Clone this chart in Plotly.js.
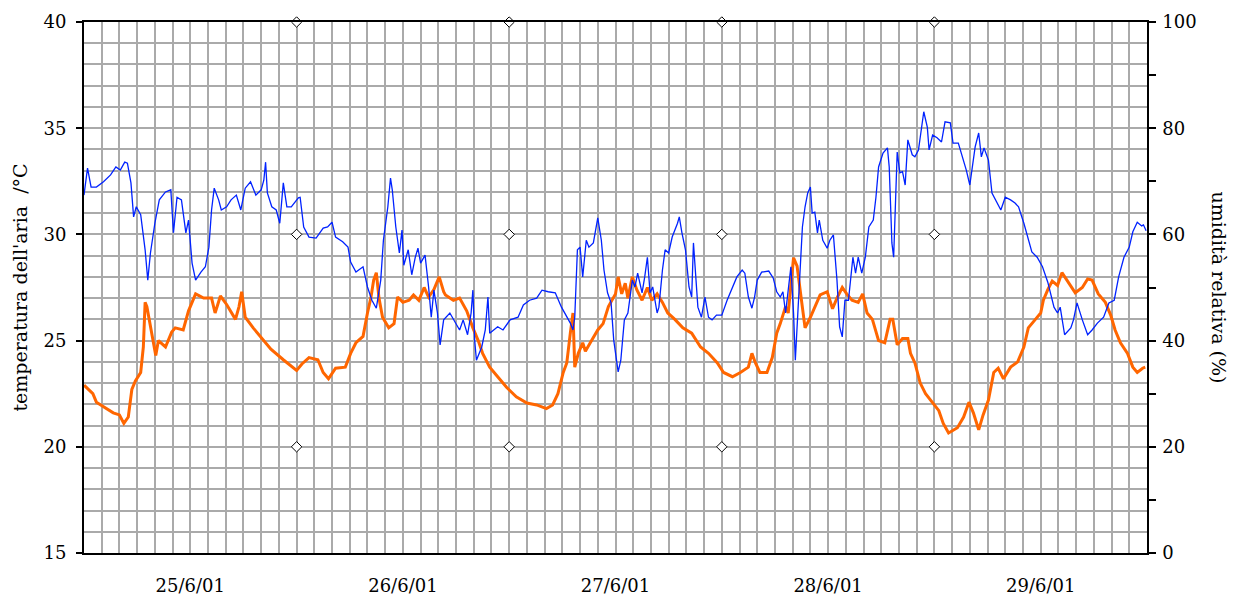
<!DOCTYPE html>
<html>
<head>
<meta charset="utf-8">
<script src="https://cdn.plot.ly/plotly-3.0.1.min.js"></script>
<style>html,body{margin:0;padding:0;background:#fff;}#chart{width:1239px;height:607px;}</style>
</head>
<body>
<div id="chart"></div>
<script>
// hours since 25/6/01 00:00
const tempHours = [0,1.0,1.4,2.2,3.3,4.0,4.5,5.0,5.4,5.8,6.4,6.7,6.9,7.1,7.6,8.1,8.4,9.2,9.9,10.3,11.2,11.8,12.6,13.5,14.4,14.8,15.4,16.1,17.1,17.5,17.8,18.2,19.1,20.3,21.1,22.5,24.0,24.6,25.4,26.4,27.0,27.6,28.4,29.5,30.1,30.7,31.5,32.0,32.4,32.7,33.0,33.3,33.7,34.4,35.0,35.4,36.0,36.7,37.2,37.8,38.4,38.9,39.5,40.1,40.6,40.8,41.7,42.4,43.2,43.9,44.5,45.0,45.8,46.7,47.7,48.8,50.0,51.1,52.2,52.9,53.5,54.1,54.5,54.9,55.2,55.4,55.8,56.3,56.6,57.3,58.0,58.6,59.2,60.0,60.3,60.7,61.1,61.4,61.9,62.4,63.0,63.6,64.1,64.7,65.3,65.9,66.7,67.6,68.6,69.6,70.5,71.5,72.2,73.2,74.1,75.0,75.4,75.8,76.3,77.1,77.7,78.2,78.6,79.2,79.5,80.1,80.5,80.9,81.4,82.0,82.5,83.1,83.9,84.5,85.0,85.6,86.1,86.7,87.4,87.9,88.4,89.0,89.7,90.4,91.0,91.3,91.8,92.4,93.0,93.3,93.8,94.4,95.0,95.8,96.5,97.0,97.6,98.6,99.3,99.9,100.4,101.0,101.5,102.1,102.7,103.2,103.8,104.6,105.4,106.1,106.6,107.4,108.0,108.3,108.8,109.3,109.9,110.4,111.0,111.9,112.7,113.3,113.8,114.5,115.3,115.9,116.4,117.0,117.8,118.4,118.9,119.5,119.8];
const temperature = [22.9,22.5,22.1,21.9,21.6,21.5,21.1,21.4,22.7,23.1,23.5,24.7,26.8,26.6,25.4,24.3,25.0,24.7,25.4,25.6,25.5,26.4,27.2,27.0,27.0,26.3,27.1,26.7,26.0,26.6,27.3,26.1,25.6,25.0,24.6,24.1,23.6,23.9,24.2,24.1,23.5,23.2,23.7,23.75,24.4,24.9,25.2,26.3,27.05,27.85,28.2,27.0,26.1,25.6,25.8,27.05,26.8,26.9,27.15,26.9,27.5,27.05,27.4,28.0,27.3,27.15,26.9,27.0,26.4,25.6,25.0,24.4,23.75,23.3,22.8,22.35,22.06,21.97,21.8,21.97,22.5,23.5,23.95,25.35,26.3,23.75,24.4,24.9,24.5,25.0,25.5,25.8,26.6,27.2,28.0,27.2,27.7,27.0,28.0,27.4,26.9,27.5,26.9,27.2,26.8,26.3,26.0,25.6,25.35,24.7,24.4,23.95,23.5,23.3,23.5,23.75,24.4,23.95,23.5,23.5,24.2,25.35,25.8,26.6,26.3,28.9,28.5,27.2,25.6,26.1,26.6,27.15,27.3,26.5,27.0,27.5,27.2,26.9,26.8,27.2,26.3,26.0,25.0,24.9,26.0,26.0,24.8,25.1,25.1,24.4,23.95,23.0,22.5,22.06,21.7,21.1,20.65,20.9,21.4,22.1,21.6,20.8,21.5,22.2,23.5,23.7,23.2,23.75,24.0,24.7,25.6,26.0,26.3,26.9,27.4,27.8,27.6,28.2,27.8,27.25,27.5,27.9,27.85,27.2,26.8,26.2,25.5,24.9,24.4,23.75,23.5,23.7,23.75];

const humHours = [0,0.2,0.4,0.8,1.4,2.2,3.0,3.6,4.1,4.6,4.9,5.3,5.6,5.9,6.4,6.9,7.2,7.5,8.0,8.5,9.2,9.8,10.1,10.5,11.0,11.5,11.8,12.2,12.6,13.2,13.7,14.1,14.4,14.7,15.2,15.5,16.1,16.6,17.2,17.7,18.2,18.8,19.4,20.0,20.3,20.5,20.7,21.2,21.7,22.1,22.5,22.9,23.4,24.2,24.4,24.8,25.4,26.2,27.0,27.5,28.0,28.4,29.2,29.8,30.1,30.7,31.5,32.0,32.5,33.0,33.5,33.8,34.3,34.6,34.8,35.2,35.6,35.9,36.1,36.6,37.0,37.4,37.7,38.0,38.5,38.9,39.2,39.5,39.9,40.2,40.6,41.3,41.9,42.4,42.8,43.3,43.7,43.9,44.1,44.3,44.9,45.3,45.6,45.8,46.7,47.3,48.1,49.0,49.6,50.3,51.1,51.7,52.4,53.2,53.9,54.5,54.9,55.2,55.4,55.7,56.0,56.3,56.7,57.0,57.5,58.0,58.4,58.7,59.1,59.5,59.8,60.3,60.6,61.0,61.4,61.9,62.2,62.5,63.0,63.3,63.6,63.9,64.2,64.7,64.9,65.3,65.6,66.0,66.4,67.0,67.2,67.5,67.9,68.3,68.6,68.8,69.1,69.3,69.7,70.1,70.5,70.9,71.4,72.0,72.6,73.2,73.7,74.3,74.6,75.0,75.4,75.7,76.0,76.5,77.3,77.8,78.2,78.6,78.9,79.2,79.6,79.8,80.1,80.3,80.5,80.8,81.1,81.4,81.7,82.0,82.2,82.5,82.8,83.0,83.4,83.9,84.2,84.6,85.0,85.3,85.6,85.9,86.3,86.8,87.1,87.4,87.8,88.2,88.6,89.1,89.4,89.7,90.2,90.7,90.9,91.1,91.2,91.4,91.7,91.8,92.1,92.4,92.7,93.0,93.5,93.8,94.2,94.5,94.8,95.2,95.4,95.8,96.3,96.8,97.2,97.8,98.1,98.7,99.2,99.6,100.0,100.3,100.6,101.0,101.3,101.6,102.1,102.5,102.9,103.5,104.0,104.6,105.1,105.5,106.1,106.5,107.0,107.6,108.2,108.8,109.1,109.5,109.9,110.2,110.7,111.4,111.7,112.1,112.7,113.3,113.8,114.4,115.1,115.7,116.3,116.8,117.4,118.0,118.4,118.9,119.4,119.6,119.9];
const humidity = [67.4,69.7,72.5,68.9,68.9,69.9,71.2,72.7,72.1,73.6,73.4,69.7,63.3,65.2,63.7,57.1,51.4,56.5,62.1,66.5,68.0,68.4,60.3,67.0,66.5,60.3,62.7,54.6,51.4,52.9,53.9,57.6,64.6,68.7,66.5,64.6,65.2,66.5,67.4,64.6,68.7,69.9,67.4,68.4,70.2,73.6,67.8,65.2,64.6,62.1,69.7,65.2,65.2,66.9,67.0,61.4,59.5,59.3,61.2,61.4,62.3,59.5,58.6,57.6,54.8,52.9,53.9,50.1,47.6,46.1,51.4,58.9,65.2,70.6,68.4,61.4,56.5,60.8,54.2,57.1,52.4,55.7,57.4,54.6,56.1,50.1,44.4,49.5,45.2,39.2,43.9,45.2,43.3,42.0,43.9,41.1,45.2,49.5,40.1,36.3,38.8,42.0,48.2,41.4,42.6,42.0,43.9,44.4,46.7,47.6,48.0,49.5,49.2,49.0,46.3,44.4,43.3,42.0,44.4,57.1,57.6,52.0,58.9,57.6,58.4,63.1,58.9,53.3,49.0,47.1,40.1,34.1,36.3,43.9,45.2,51.4,50.1,52.7,49.0,52.0,55.7,49.0,50.1,45.2,46.3,53.3,57.1,56.5,59.5,62.1,63.3,60.3,57.1,50.1,48.2,58.4,51.4,46.3,44.4,48.2,44.4,43.9,44.8,44.8,47.6,49.9,52.0,53.3,52.7,48.2,46.1,48.2,51.4,52.9,53.1,51.8,49.2,48.2,49.2,45.2,50.8,53.9,45.2,36.3,42.6,52.7,61.4,65.2,67.8,68.9,64.0,64.2,60.3,62.7,58.9,57.4,58.9,59.9,51.4,42.6,40.7,47.6,47.6,55.7,52.7,55.7,52.7,55.7,61.4,62.7,67.0,72.7,75.3,76.3,72.7,63.3,58.4,55.7,70.2,75.5,71.6,71.8,69.3,77.8,75.0,74.6,75.9,79.7,83.1,80.2,75.9,78.7,78.2,77.4,81.2,81.0,77.2,77.2,74.4,72.1,69.3,72.7,76.5,79.1,74.6,76.3,74.0,67.8,66.5,64.6,67.0,66.5,65.9,65.2,62.1,59.5,56.7,55.7,53.9,51.0,49.0,46.3,45.2,46.3,41.1,42.4,43.9,47.1,43.9,41.1,42.0,43.3,44.4,47.1,47.6,52.0,55.7,57.6,60.5,62.3,61.6,61.8,60.7];

const dayTickHours = [12, 36, 60, 84, 108];
const dayLabels = ['25/6/01', '26/6/01', '27/6/01', '28/6/01', '29/6/01'];
const markerHours = [24, 48, 72, 96];
const markerTemps = [40, 30, 20];

const mx = [], my = [];
markerHours.forEach(h => markerTemps.forEach(t => { mx.push(h); my.push(t); }));

const FONT = 'DejaVu Serif, serif';
const GRID = '#aaaaaa';

const traces = [
  // temperature on base axes (x, y): these carry the 2 h / 1 °C grid
  {x: tempHours, y: temperature, type: 'scatter', mode: 'lines', xaxis: 'x', yaxis: 'y',
   line: {color: '#ff6600', width: 3}, hoverinfo: 'skip', showlegend: false},
  // humidity on right axis
  {x: humHours, y: humidity, type: 'scatter', mode: 'lines', xaxis: 'x', yaxis: 'y2',
   line: {color: '#0022ff', width: 1.3}, hoverinfo: 'skip', showlegend: false},
  // diamond markers on the labelled axes (x2, y3)
  {x: mx, y: my, type: 'scatter', mode: 'markers', xaxis: 'x2', yaxis: 'y3', cliponaxis: false,
   marker: {symbol: 'diamond', size: 8, color: '#ffffff', line: {color: '#000000', width: 1}},
   hoverinfo: 'skip', showlegend: false}
];

const layout = {
  width: 1239, height: 607,
  margin: {l: 84, r: 92, t: 22, b: 54},
  paper_bgcolor: '#ffffff', plot_bgcolor: '#ffffff',
  font: {family: FONT, size: 18, color: '#000'},
  showlegend: false,
  xaxis: {
    range: [0, 120], tick0: 0, dtick: 2, ticks: '', showticklabels: false,
    showgrid: true, gridcolor: GRID, gridwidth: 2,
    showline: true, mirror: true, linecolor: '#000', linewidth: 1.5, zeroline: false
  },
  xaxis2: {
    overlaying: 'x', anchor: 'y3', side: 'bottom', range: [0, 120],
    tickmode: 'array', tickvals: dayTickHours, ticktext: dayLabels,
    ticks: '', showgrid: false, showline: false, zeroline: false,
    ticklabelstandoff: 20, tickfont: {family: FONT, size: 18}
  },
  yaxis: {
    range: [15, 40], tick0: 15, dtick: 1, ticks: '', showticklabels: false,
    showgrid: true, gridcolor: GRID, gridwidth: 2,
    showline: true, linecolor: '#000', linewidth: 1.5, zeroline: false,
    title: {text: "temperatura dell'aria\u00a0\u00a0/°C", font: {family: FONT, size: 19}, standoff: 50}
  },
  yaxis3: {
    overlaying: 'y', side: 'left', anchor: 'x2', range: [15, 40], tick0: 15, dtick: 5,
    ticks: 'outside', ticklen: 7, tickcolor: '#000', tickwidth: 1.5,
    ticklabelstandoff: 6, tickfont: {family: FONT, size: 18},
    showgrid: false, showline: false, zeroline: false
  },
  yaxis2: {
    overlaying: 'y', side: 'right', anchor: 'x', range: [0, 100], tick0: 0, dtick: 20,
    ticks: 'outside', ticklen: 7, tickcolor: '#000', tickwidth: 1.5, showgrid: false,
    minor: {tick0: 0, dtick: 10, ticks: 'outside', ticklen: 7, tickcolor: '#000', tickwidth: 1.5, showgrid: false},
    showline: true, linecolor: '#000', linewidth: 1.5, zeroline: false,
    ticklabelstandoff: 3, tickfont: {family: FONT, size: 18}
  },
  annotations: [{
    text: 'umidità relativa (%)', xref: 'paper', yref: 'paper', x: 1, y: 0.5,
    xshift: 72, textangle: 90, showarrow: false, font: {family: FONT, size: 19},
    xanchor: 'center', yanchor: 'middle'
  }]
};

Plotly.newPlot('chart', traces, layout, {displayModeBar: false});
</script>
</body>
</html>
